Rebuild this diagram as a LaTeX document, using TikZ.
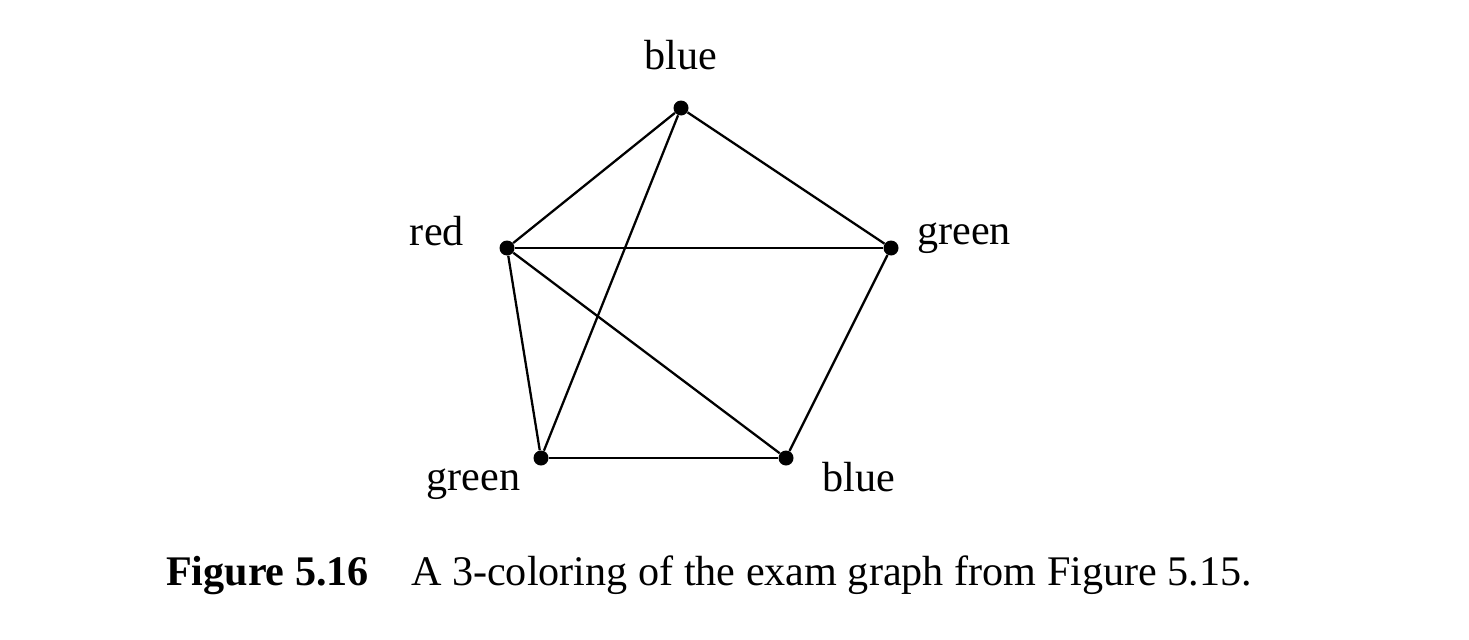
\documentclass[tikz,border=0pt]{standalone}
\usepackage{fontspec}
\setmainfont{Liberation Serif}
\usepackage{tikz}
\usetikzlibrary{positioning}

\begin{document}
\begin{tikzpicture}[x=0.02cm, y=-0.02cm,
  vert/.style={circle, fill=black, inner sep=0pt, minimum size=0.3cm},
  lbl/.style={inner sep=0pt, font=\fontsize{24}{28}\selectfont},
  ed/.style={line width=1.3pt, black},
  capt/.style={inner sep=0pt, anchor=base, font=\fontsize{24}{28}\selectfont}
]
\useasboundingbox (0,0) rectangle (1469,639);

\node[vert] (top) at (681,108) {};
\node[vert] (lft) at (507,248) {};
\node[vert] (rgt) at (891,248) {};
\node[vert] (bl)  at (541,458) {};
\node[vert] (br)  at (786,458) {};

\node[lbl, above=0.6cm of top]                (ltop) {blue};
\node[lbl, left=0.7cm of lft, yshift=0.34cm]   (llft) {red};
\node[lbl, right=0.36cm of rgt, yshift=0.2cm]  (lrgt) {green};
\node[lbl, below left=0.1cm and 0.3cm of bl]   (lbl1) {green};
\node[lbl, right=0.56cm of br, yshift=-0.38cm] (lbr)  {blue};

\draw[ed] (top)--(lft);
\draw[ed] (top)--(rgt);
\draw[ed] (top)--(bl);
\draw[ed] (lft)--(rgt);
\draw[ed] (lft)--(bl);
\draw[ed] (lft)--(br);
\draw[ed] (rgt)--(br);
\draw[ed] (bl)--(br);

\node[capt] (cap) at (709,585) {\textbf{Figure 5.16}\quad A 3-coloring of the exam graph from Figure 5.15.};

\end{tikzpicture}
\end{document}
